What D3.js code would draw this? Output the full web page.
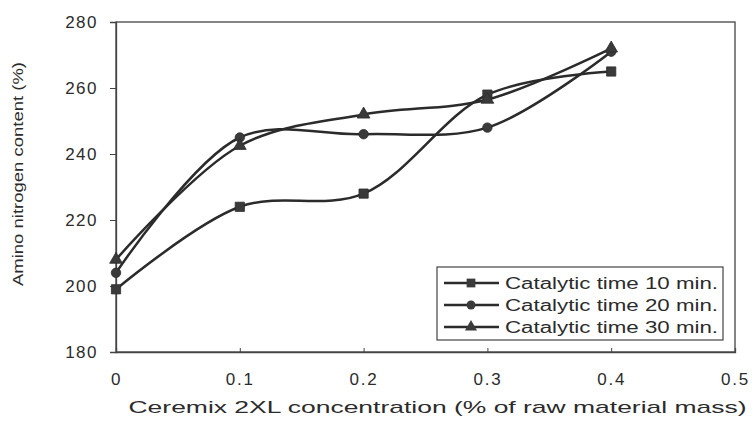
<!DOCTYPE html>
<html>
<head>
<meta charset="utf-8">
<script src="https://cdn.jsdelivr.net/npm/d3@7"></script>
<style>
  body { margin: 0; background: #fff; }
  svg { font-family: "Liberation Sans", Arial, sans-serif; fill: #222; }
</style>
</head>
<body>
<svg width="754" height="422"></svg>
<script>
// concentration values (x)
const concentrations = [0, 0.1, 0.2, 0.3, 0.4];
// amino nitrogen content for each catalytic time
const time10 = [199, 224, 228, 258, 265];
const time20 = [204, 245, 246, 248, 271];
const time30 = [208, 242.5, 252, 256.5, 272];
const seriesNames = ["Catalytic time 10 min.", "Catalytic time 20 min.", "Catalytic time 30 min."];
const xTicks = [0, 0.1, 0.2, 0.3, 0.4, 0.5];
const yTicks = [180, 200, 220, 240, 260, 280];

const series = [
    { name: seriesNames[0], values: time10, symbol: d3.symbolSquare, size: 85 },
    { name: seriesNames[1], values: time20, symbol: d3.symbolCircle, size: 70 },
    { name: seriesNames[2], values: time30, symbol: d3.symbolTriangle, size: 70 }
];

const margin = { top: 22, right: 19, bottom: 70, left: 116 },
      width = 754 - margin.left - margin.right,
      height = 422 - margin.top - margin.bottom;

const svg = d3.select("svg")
    .append("g")
    .attr("transform", `translate(${margin.left},${margin.top})`);

const x = d3.scaleLinear().domain([0, 0.5]).range([0, width]);
const y = d3.scaleLinear().domain([180, 280]).range([height, 0]);

const ink = "#2b2b2b";

// frame
svg.append("rect")
    .attr("width", width)
    .attr("height", height)
    .attr("fill", "none")
    .attr("stroke", "#444")
    .attr("stroke-width", 1.3);

// y axis ticks + labels
const yAxis = svg.append("g")
    .call(d3.axisLeft(y).tickValues(yTicks).tickSize(6).tickPadding(12));
yAxis.select(".domain").attr("stroke", "#444").attr("stroke-width", 1.3);
yAxis.selectAll(".tick line").attr("stroke", "#444");
yAxis.selectAll("text")
    .style("font-size", "17px")
    .style("letter-spacing", "1.5px")
    .attr("fill", ink);

// x axis: ticks point inward
const xAxis = svg.append("g")
    .attr("transform", `translate(0,${height})`)
    .call(d3.axisBottom(x).tickValues(xTicks).tickFormat(d => d === 0 ? "0" : d3.format(".1f")(d)).tickSize(-4).tickPadding(21));
xAxis.select(".domain").attr("stroke", "#444").attr("stroke-width", 1.3);
xAxis.selectAll(".tick line").attr("stroke", "#444");
xAxis.selectAll("text")
    .style("font-size", "17px")
    .style("letter-spacing", "1.8px")
    .attr("fill", ink);

// axis titles
svg.append("text")
    .attr("x", width / 2 + 12)
    .attr("y", height + 61)
    .attr("text-anchor", "middle")
    .attr("textLength", 618)
    .attr("lengthAdjust", "spacingAndGlyphs")
    .style("font-size", "17px")
    .attr("fill", ink)
    .text("Ceremix 2XL concentration (% of raw material mass)");

svg.append("text")
    .attr("transform", "rotate(-90)")
    .attr("x", -152)
    .attr("y", -93)
    .attr("text-anchor", "middle")
    .attr("textLength", 224)
    .attr("lengthAdjust", "spacingAndGlyphs")
    .style("font-size", "15px")
    .attr("fill", ink)
    .text("Amino nitrogen content (%)");

// lines
const line = d3.line()
    .x((d, i) => x(concentrations[i]))
    .y(d => y(d))
    .curve(d3.curveCatmullRom.alpha(0.5));

series.forEach(s => {
    svg.append("path")
        .datum(s.values)
        .attr("fill", "none")
        .attr("stroke", ink)
        .attr("stroke-width", 2.5)
        .attr("d", line);

    svg.selectAll(null)
        .data(s.values)
        .enter().append("path")
        .attr("transform", (d, i) => `translate(${x(concentrations[i])},${y(d)})`)
        .attr("d", d3.symbol().type(s.symbol).size(s.size))
        .attr("fill", "#3a3a3a")
        .attr("stroke", ink)
        .attr("stroke-width", 0.8);
});

// legend
const legend = svg.append("g")
    .attr("transform", `translate(${437 - margin.left},${267 - margin.top})`);

legend.append("rect")
    .attr("width", 286)
    .attr("height", 73)
    .attr("fill", "#fff")
    .attr("stroke", "#444")
    .attr("stroke-width", 1.2);

series.forEach((s, i) => {
    const row = legend.append("g")
        .attr("transform", `translate(0,${16 + i * 22})`);
    row.append("line")
        .attr("x1", 7).attr("x2", 62)
        .attr("stroke", ink)
        .attr("stroke-width", 2.6);
    row.append("path")
        .attr("transform", "translate(34,0)")
        .attr("d", d3.symbol().type(s.symbol).size(s.size * 0.9))
        .attr("fill", "#3a3a3a");
    row.append("text")
        .attr("x", 68)
        .attr("y", 6)
        .attr("textLength", 213)
        .attr("lengthAdjust", "spacingAndGlyphs")
        .style("font-size", "16px")
        .attr("fill", ink)
        .text(s.name);
});
</script>
</body>
</html>
